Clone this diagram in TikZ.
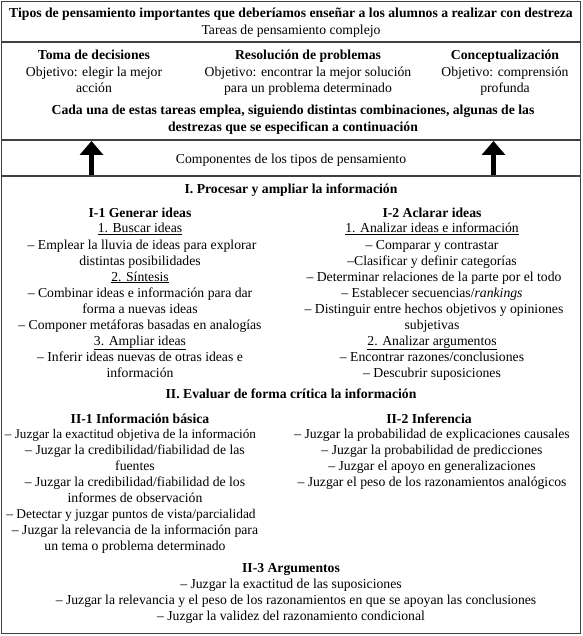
\documentclass[tikz,border=0pt]{standalone}
\usepackage{fontspec}
\setmainfont{Liberation Serif}
\usetikzlibrary{arrows.meta}
\begin{document}
\begin{tikzpicture}[x=1pt,y=-1pt,
  t/.style={inner sep=0pt,anchor=base,font=\fontsize{13.7}{16}\selectfont},
  b/.style={inner sep=0pt,anchor=base,font=\fontsize{13.7}{16}\selectfont\bfseries},
  frame/.style={draw=black!75,line width=1.3pt},
  uparrow/.style={line width=5pt,-{Triangle[width=23pt,length=14pt]},black}]
\useasboundingbox (0,0) rectangle (582,636);
% frames
\draw[frame] (1.5,1.5) rectangle (580.5,633.5);
\draw[frame] (1.5,42) -- (580.5,42);
\draw[frame] (1.5,140) -- (580.5,140);
\draw[frame] (1.5,176) -- (580.5,176);
% arrows
\coordinate (a1s) at (91.5,175);
\coordinate (a1e) at (91.5,141);
\coordinate (a2s) at (493.5,175);
\coordinate (a2e) at (493.5,141);
\draw[uparrow] (a1s) -- (a1e);
\draw[uparrow] (a2s) -- (a2e);
% title
\node[b] (tit1) at (291,18) {Tipos de pensamiento importantes que deberíamos enseñar a los alumnos a realizar con destreza};
\node[t] (tit2) at (291,35) {Tareas de pensamiento complejo};
% tasks
\node[b] (k1) at (94,60) {Toma de decisiones};
\node[t] (k1a) at (94,77) {Objetivo: elegir la mejor};
\node[t] (k1b) at (94,93) {acción};
\node[b] (k2) at (308,60) {Resolución de problemas};
\node[t] (k2a) at (308,77) {Objetivo: encontrar la mejor solución};
\node[t] (k2b) at (308,93) {para un problema determinado};
\node[b] (k3) at (505,60) {Conceptualización};
\node[t] (k3a) at (505,77) {Objetivo: comprensión};
\node[t] (k3b) at (505,93) {profunda};
\node[b] (cada1) at (293,115) {Cada una de estas tareas emplea, siguiendo distintas combinaciones, algunas de las};
\node[b] (cada2) at (293,132) {destrezas que se especifican a continuación};
% componentes
\node[t] (comp) at (291,164) {Componentes de los tipos de pensamiento};
% I
\node[b] (I) at (291,194) {I. Procesar y ampliar la información};
% I-1
\node[b] (i1) at (140,217) {I-1 Generar ideas};
\node[t] (i1a) at (140,233) {\underline{1. Buscar ideas}};
\node[t] (i1b) at (142,249) {– Emplear la lluvia de ideas para explorar};
\node[t] (i1c) at (140,265) {distintas posibilidades};
\node[t] (i1d) at (140,281) {\underline{2. Síntesis}};
\node[t] (i1e) at (140,297) {– Combinar ideas e información para dar};
\node[t] (i1f) at (140,313) {forma a nuevas ideas};
\node[t] (i1g) at (140,329) {– Componer metáforas basadas en analogías};
\node[t] (i1h) at (140,345) {\underline{3. Ampliar ideas}};
\node[t] (i1i) at (140,361) {– Inferir ideas nuevas de otras ideas e};
\node[t] (i1j) at (140,377) {información};
% I-2
\node[b] (i2) at (432,217) {I-2 Aclarar ideas};
\node[t] (i2a) at (432,233) {\underline{1. Analizar ideas e información}};
\node[t] (i2b) at (432,249) {– Comparar y contrastar};
\node[t] (i2c) at (432,265) {–Clasificar y definir categorías};
\node[t] (i2d) at (434,281) {– Determinar relaciones de la parte por el todo};
\node[t] (i2e) at (432,297) {– Establecer secuencias/\textit{rankings}};
\node[t] (i2f) at (434,313) {– Distinguir entre hechos objetivos y opiniones};
\node[t] (i2g) at (432,329) {subjetivas};
\node[t] (i2h) at (432,345) {\underline{2. Analizar argumentos}};
\node[t] (i2i) at (432,361) {– Encontrar razones/conclusiones};
\node[t] (i2j) at (432,377) {– Descubrir suposiciones};
% II
\node[b] (II) at (291,398) {II. Evaluar de forma crítica la información};
% II-1
\node[b] (j1) at (140,423) {II-1 Información básica};
\node[t,font=\fontsize{13.2}{16}\selectfont] (j1a) at (130.5,438) {– Juzgar la exactitud objetiva de la información};
\node[t] (j1b) at (135,454) {– Juzgar la credibilidad/fiabilidad de las};
\node[t] (j1c) at (135,470) {fuentes};
\node[t] (j1d) at (135,486) {– Juzgar la credibilidad/fiabilidad de los};
\node[t] (j1e) at (135,502) {informes de observación};
\node[t,font=\fontsize{13.4}{16}\selectfont] (j1f) at (131,518) {– Detectar y juzgar puntos de vista/parcialidad};
\node[t] (j1g) at (135,534) {– Juzgar la relevancia de la información para};
\node[t] (j1h) at (135,550) {un tema o problema determinado};
% II-2
\node[b] (j2) at (429,423) {II-2 Inferencia};
\node[t] (j2a) at (432,438) {– Juzgar la probabilidad de explicaciones causales};
\node[t] (j2b) at (432,454) {– Juzgar la probabilidad de predicciones};
\node[t] (j2c) at (432,470) {– Juzgar el apoyo en generalizaciones};
\node[t] (j2d) at (432,486) {– Juzgar el peso de los razonamientos analógicos};
% II-3
\node[b] (j3) at (291,572) {II-3 Argumentos};
\node[t] (j3a) at (291,588) {– Juzgar la exactitud de las suposiciones};
\node[t] (j3b) at (296,604) {– Juzgar la relevancia y el peso de los razonamientos en que se apoyan las conclusiones};
\node[t] (j3c) at (291,620) {– Juzgar la validez del razonamiento condicional};
\end{tikzpicture}
\end{document}
